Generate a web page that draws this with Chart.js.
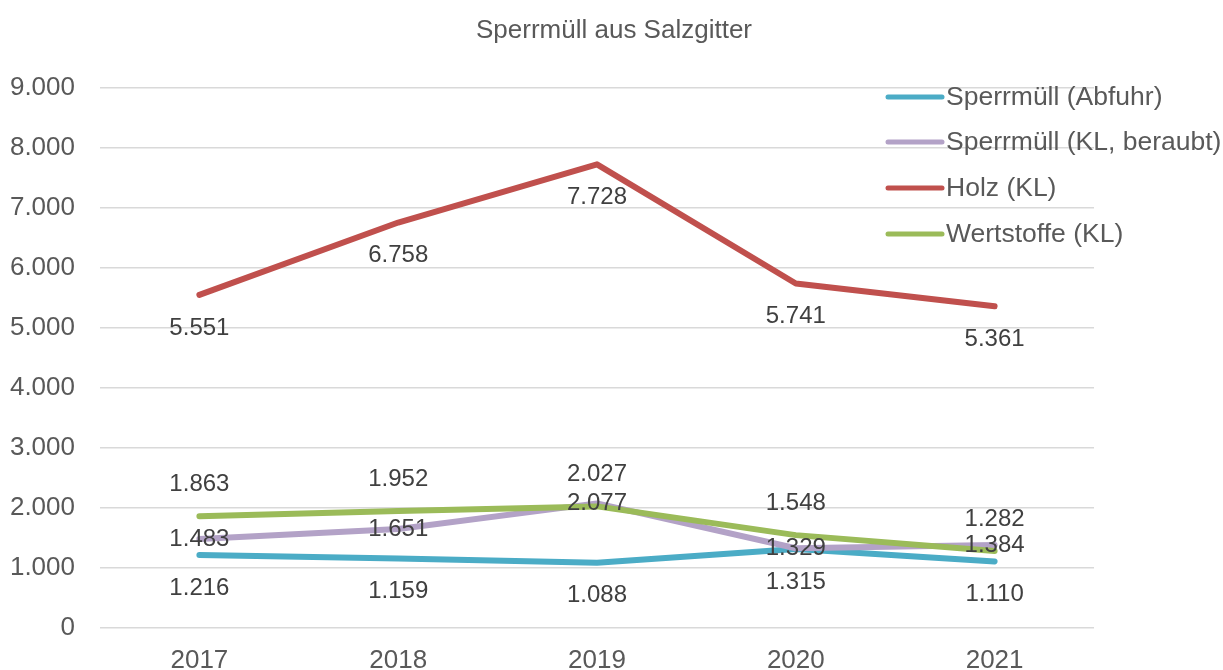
<!DOCTYPE html>
<html>
<head>
<meta charset="utf-8">
<script src="https://cdn.jsdelivr.net/npm/chart.js@4.4.1/dist/chart.umd.min.js"></script>
<style>
  html, body { margin: 0; padding: 0; background: #ffffff; }
  #wrap { width: 1223px; height: 670px; position: relative; }
</style>
</head>
<body>
<div id="wrap"><canvas id="c" width="1223" height="670"></canvas></div>
<script>
const chartTitle = 'Sperrmüll aus Salzgitter';
const years = ['2017', '2018', '2019', '2020', '2021'];
const seriesNames = ['Sperrmüll (Abfuhr)', 'Sperrmüll (KL, beraubt)', 'Holz (KL)', 'Wertstoffe (KL)'];
const abfuhr = [1216, 1159, 1088, 1315, 1110];
const klBeraubt = [1483, 1651, 2077, 1329, 1384];
const holz = [5551, 6758, 7728, 5741, 5361];
const wertstoffe = [1863, 1952, 2027, 1548, 1282];
const yTicks = [0, 1000, 2000, 3000, 4000, 5000, 6000, 7000, 8000, 9000];

const colors = ['#4BACC6', '#B3A2C7', '#C0504D', '#9BBB59'];
const labelOffsets = [33, 0, 33, -32];
const FONT = "'Liberation Sans', Arial, sans-serif";

function fmt(v) {
  const s = String(Math.round(v));
  return s.replace(/\B(?=(\d{3})+(?!\d))/g, '.');
}

const titlePlugin = {
  id: 'customTitle',
  afterDraw(chart) {
    const ctx = chart.ctx;
    ctx.save();
    ctx.font = '26px ' + FONT;
    ctx.fillStyle = '#595959';
    ctx.textAlign = 'center';
    ctx.textBaseline = 'middle';
    ctx.fillText(chartTitle, 614, 31);
    ctx.restore();
  }
};

const dataLabelPlugin = {
  id: 'dataLabels',
  afterDatasetsDraw(chart) {
    const ctx = chart.ctx;
    ctx.save();
    ctx.font = '24px ' + FONT;
    ctx.fillStyle = '#404040';
    ctx.textAlign = 'center';
    ctx.textBaseline = 'middle';
    chart.data.datasets.forEach((ds, i) => {
      const meta = chart.getDatasetMeta(i);
      meta.data.forEach((pt, j) => {
        ctx.fillText(fmt(ds.data[j]), pt.x, pt.y + labelOffsets[i]);
      });
    });
    ctx.restore();
  }
};

const legendPlugin = {
  id: 'customLegend',
  afterDraw(chart) {
    const ctx = chart.ctx;
    ctx.save();
    const x0 = 888, x1 = 942, tx = 946;
    const ys = [97, 142, 188, 234];
    chart.data.datasets.forEach((ds, i) => {
      ctx.strokeStyle = ds.borderColor;
      ctx.lineWidth = 5;
      ctx.lineCap = 'round';
      ctx.beginPath();
      ctx.moveTo(x0, ys[i]);
      ctx.lineTo(x1, ys[i]);
      ctx.stroke();
      ctx.font = '26.5px ' + FONT;
      ctx.fillStyle = '#595959';
      ctx.textAlign = 'left';
      ctx.textBaseline = 'middle';
      ctx.fillText(ds.label, tx, ys[i] + 1);
    });
    ctx.restore();
  }
};

function mk(i, data, order) {
  return {
    label: seriesNames[i],
    data: data,
    borderColor: colors[i],
    backgroundColor: colors[i],
    borderWidth: 6,
    borderCapStyle: 'round',
    borderJoinStyle: 'round',
    pointRadius: 0,
    pointHoverRadius: 0,
    tension: 0,
    fill: false,
    order: order
  };
}

new Chart(document.getElementById('c'), {
  type: 'line',
  data: {
    labels: years,
    datasets: [
      mk(0, abfuhr, 3),
      mk(1, klBeraubt, 2),
      mk(2, holz, 1),
      mk(3, wertstoffe, 0)
    ]
  },
  options: {
    responsive: false,
    animation: false,
    devicePixelRatio: 1,
    layout: { padding: { top: 88, right: 129, bottom: 0, left: 0 } },
    plugins: {
      legend: { display: false },
      title: { display: false },
      tooltip: { enabled: false }
    },
    scales: {
      x: {
        offset: true,
        grid: { display: false, drawTicks: false },
        border: { display: false },
        ticks: {
          padding: 17,
          color: '#595959',
          font: { family: FONT, size: 26 },
          maxRotation: 0
        },
        afterFit(s) { s.height = 42; }
      },
      y: {
        min: 0,
        max: 9000,
        afterBuildTicks(s) { s.ticks = yTicks.map(v => ({ value: v })); },
        grid: { color: '#D9D9D9', lineWidth: 1.5, drawTicks: false },
        border: { display: false },
        ticks: {
          padding: 25,
          color: '#595959',
          font: { family: FONT, size: 26 },
          callback: (v) => fmt(v)
        },
        afterFit(s) { s.width = 100; }
      }
    }
  },
  plugins: [titlePlugin, dataLabelPlugin, legendPlugin]
});
</script>
</body>
</html>
